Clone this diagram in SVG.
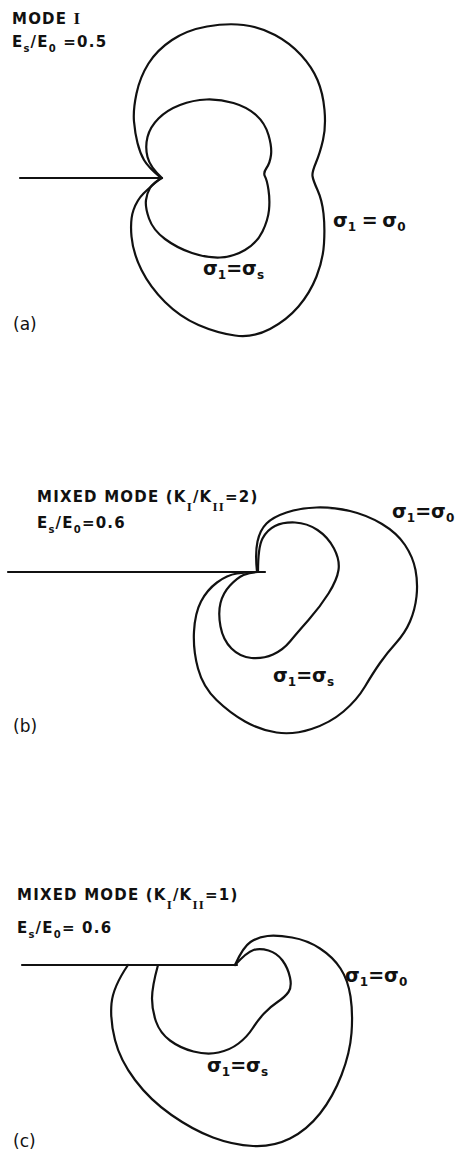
<svg xmlns="http://www.w3.org/2000/svg" width="456" height="1152" viewBox="0 0 456 1152">
<style>
.c{fill:none;stroke:#111;stroke-width:2.2;stroke-linejoin:round;stroke-linecap:round}
.t{font-family:"DejaVu Sans","Liberation Sans",sans-serif;font-weight:bold;font-size:15px;fill:#111;letter-spacing:1.2px}
.s{font-family:"DejaVu Sans","Liberation Sans",sans-serif;font-weight:bold;font-size:19px;fill:#111}
.r{font-family:"Liberation Serif",serif;font-weight:bold}
.p{font-family:"DejaVu Sans","Liberation Sans",sans-serif;font-size:17px;fill:#111}
</style>
<rect width="456" height="1152" fill="#fff"/>
<g id="panel-a">
  <g id="a-contours">
    <path class="c" d="M 161,178 Q 148,167 144,160 Q 140,153 137.5,143 Q 135,133 134,121.5 Q 133,110 136.5,93.5 Q 140,77 148.5,63.5 Q 157,50 172,40 Q 187,30 207,26.5 Q 227,23 243.5,25 Q 260,27 275,35 Q 290,43 301,55 Q 312,67 317.5,80 Q 323,93 324.5,110 Q 326,127 323,140 Q 320,153 316,162.5 Q 312,172 312.5,176 Q 313,180 317.5,190 Q 322,200 323.5,213.5 Q 325,227 324,243.5 Q 323,260 316.5,276.5 Q 310,293 298.5,306.5 Q 287,320 270,329 Q 253,338 235,335.5 Q 217,333 198.5,325 Q 180,317 165,302 Q 150,287 141.5,270 Q 133,253 131.5,236.5 Q 130,220 133.5,210 Q 137,200 143.5,193.5 Q 150,187 161,178"/>
    <path class="c" d="M 162,178 Q 150,167 147.5,157 Q 145,147 147.5,137 Q 150,127 158.5,118.5 Q 167,110 180,105 Q 193,100 206.5,99.5 Q 220,99 233.5,103 Q 247,107 256,115 Q 265,123 268.5,135 Q 272,147 271,155 Q 270,163 266.5,168 Q 263,173 265,176.5 Q 267,180 268.5,190 Q 270,200 269,210 Q 268,220 262.5,231.5 Q 257,243 245,250 Q 233,257 220,257.5 Q 207,258 192,253 Q 177,248 165,239 Q 153,230 149,218.5 Q 145,207 146,200 Q 147,193 150,188 Q 153,183 162,178"/>
  </g>
  <g id="a-crack"><line class="c" x1="20" y1="178" x2="162" y2="178"/></g>
  <text class="t" x="12" y="24">MODE <tspan class="r" font-size="17">I</tspan></text>
  <text class="t" x="12" y="47">E<tspan font-size="10" dy="5">s</tspan><tspan dy="-5">/E</tspan><tspan font-size="10" dy="5">0</tspan><tspan dy="-5"> =0.5</tspan></text>
  <text class="s" x="333" y="227">σ<tspan font-size="12" dy="4">1</tspan><tspan dy="-4" letter-spacing="-1"> = </tspan><tspan>σ</tspan><tspan font-size="12" dy="4">0</tspan></text>
  <text class="s" x="203" y="275">σ<tspan font-size="12" dy="4">1</tspan><tspan dy="-4">=σ</tspan><tspan font-size="12" dy="4">s</tspan></text>
  <text class="p" x="13" y="330">(a)</text>
</g>
<g id="panel-b">
  <g id="b-contours">
    <path class="c" d="M 257,572 Q 255,553 257.5,541.5 Q 260,530 266.5,523.5 Q 273,517 286.5,512.5 Q 300,508 316.5,507.5 Q 333,507 350,511 Q 367,515 382,524 Q 397,533 405,545 Q 413,557 415.5,570 Q 418,583 416.5,596.5 Q 415,610 410,621.5 Q 405,633 396,643 Q 387,653 380,663 Q 373,673 365,686.5 Q 357,700 343.5,711.5 Q 330,723 311.5,729 Q 293,735 276.5,732.5 Q 260,730 245,721.5 Q 230,713 216.5,700 Q 203,687 198,668.5 Q 193,650 194,631.5 Q 195,613 201,601.5 Q 207,590 217,582.5 Q 227,575 237,573.5 Q 247,572 257,572"/>
    <path class="c" d="M 258,572 Q 258,547 262.5,538.5 Q 267,530 275,526 Q 283,522 295,522.5 Q 307,523 317.5,530 Q 328,537 334,548.5 Q 340,560 338.5,570 Q 337,580 328.5,593.5 Q 320,607 308.5,620 Q 297,633 290,641.5 Q 283,650 273,654.5 Q 263,659 251.5,658 Q 240,657 231.5,648.5 Q 223,640 220.5,626.5 Q 218,613 220.5,603 Q 223,593 230,585.5 Q 237,578 243.5,575 Q 250,572 258,572"/>
  </g>
  <g id="b-crack"><line class="c" x1="8" y1="572" x2="265" y2="572"/></g>
  <text class="t" x="37" y="502">MIXED MODE (K<tspan class="r" font-size="13" dy="9">I</tspan><tspan dy="-9">/K</tspan><tspan class="r" font-size="13" dy="9">II</tspan><tspan dy="-9">=2)</tspan></text>
  <text class="t" x="37" y="528">E<tspan font-size="10" dy="5">s</tspan><tspan dy="-5">/E</tspan><tspan font-size="10" dy="5">0</tspan><tspan dy="-5">=0.6</tspan></text>
  <text class="s" x="392" y="518">σ<tspan font-size="12" dy="4">1</tspan><tspan dy="-4">=σ</tspan><tspan font-size="12" dy="4">0</tspan></text>
  <text class="s" x="273" y="682">σ<tspan font-size="12" dy="4">1</tspan><tspan dy="-4">=σ</tspan><tspan font-size="12" dy="4">s</tspan></text>
  <text class="p" x="13" y="732">(b)</text>
</g>
<g id="panel-c">
  <g id="c-contours">
    <path class="c" d="M 235,965 Q 243,947 250.5,942 Q 258,937 267.5,936 Q 277,935 292,937.5 Q 307,940 320,948.5 Q 333,957 340.5,968.5 Q 348,980 350.5,996.5 Q 353,1013 351.5,1033 Q 350,1053 341.5,1075 Q 333,1097 320,1113.5 Q 307,1130 290,1138.5 Q 273,1147 253,1146 Q 233,1145 213,1137.5 Q 193,1130 171.5,1115 Q 150,1100 135,1080 Q 120,1060 115,1040 Q 110,1020 111.5,1003.5 Q 113,987 128,965"/>
    <path class="c" d="M 235,965 Q 247,952 253.5,950 Q 260,948 268.5,950.5 Q 277,953 282.5,960.5 Q 288,968 290,977.5 Q 292,987 288.5,992 Q 285,997 277.5,1002 Q 270,1007 264,1013.5 Q 258,1020 252.5,1028.5 Q 247,1037 238.5,1043.5 Q 230,1050 218.5,1052.5 Q 207,1055 193.5,1051.5 Q 180,1048 170,1040.5 Q 160,1033 156,1021.5 Q 152,1010 152,998.5 Q 152,987 158,965"/>
  </g>
  <g id="c-crack"><line class="c" x1="22" y1="965" x2="237" y2="965"/></g>
  <text class="t" x="17" y="900">MIXED MODE (K<tspan class="r" font-size="13" dy="9">I</tspan><tspan dy="-9">/K</tspan><tspan class="r" font-size="13" dy="9">II</tspan><tspan dy="-9">=1)</tspan></text>
  <text class="t" x="17" y="933">E<tspan font-size="10" dy="5">s</tspan><tspan dy="-5">/E</tspan><tspan font-size="10" dy="5">0</tspan><tspan dy="-5">= 0.6</tspan></text>
  <text class="s" x="345" y="982">σ<tspan font-size="12" dy="4">1</tspan><tspan dy="-4">=σ</tspan><tspan font-size="12" dy="4">0</tspan></text>
  <text class="s" x="207" y="1072">σ<tspan font-size="12" dy="4">1</tspan><tspan dy="-4">=σ</tspan><tspan font-size="12" dy="4">s</tspan></text>
  <text class="p" x="13" y="1147">(c)</text>
</g>
</svg>
